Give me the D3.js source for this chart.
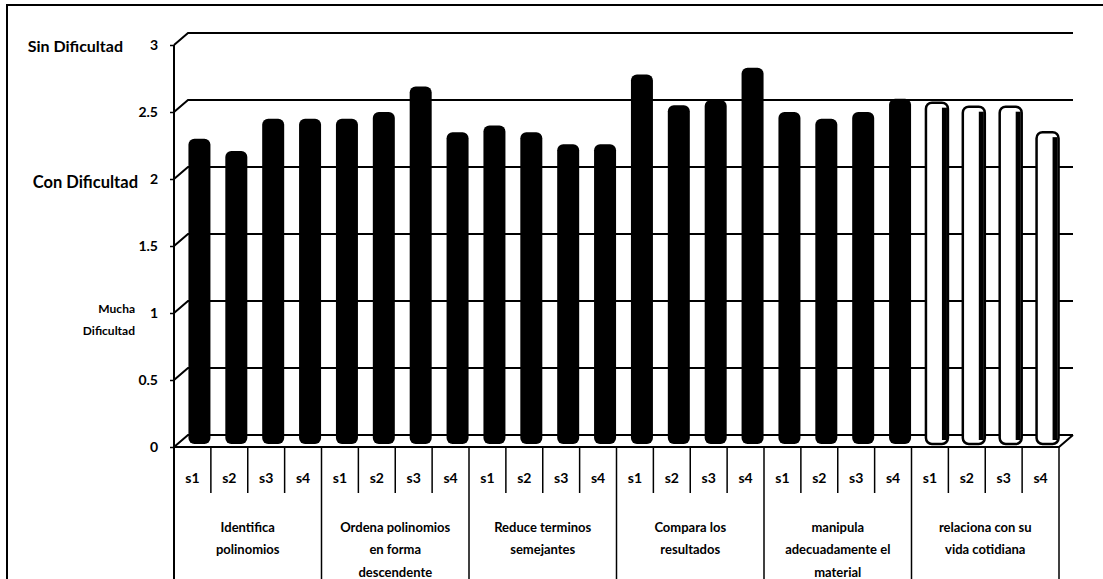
<!DOCTYPE html>
<html>
<head>
<meta charset="utf-8">
<script src="https://cdn.jsdelivr.net/npm/d3@7"></script>
<style>
  body { margin: 0; background: #fff; }
  text { font-family: Lato, "Open Sans", sans-serif; fill: #000; }
</style>
</head>
<body>
<div id="chart"></div>
<script>
// values (3D cylinders, 4 sessions per indicator)
const groups = [
  ["Identifica", "polinomios"],
  ["Ordena polinomios", "en forma", "descendente"],
  ["Reduce terminos", "semejantes"],
  ["Compara los", "resultados"],
  ["manipula", "adecuadamente el", "material"],
  ["relaciona con su", "vida cotidiana"]
];
const sessions = ["s1", "s2", "s3", "s4"];
const identifica = [2.21, 2.12, 2.36, 2.36];
const ordena = [2.36, 2.41, 2.60, 2.26];
const reduce = [2.31, 2.26, 2.17, 2.17];
const compara = [2.69, 2.46, 2.50, 2.74];
const manipula = [2.41, 2.36, 2.41, 2.51];
const relaciona = [2.48, 2.45, 2.45, 2.26];
const scores = [identifica, ordena, reduce, compara, manipula, relaciona];
const hollowGroup = 5; // last indicator drawn as white bars
const yTicks = [0, 0.5, 1, 1.5, 2, 2.5, 3];

function drawChart() {
  const W = 1103, H = 579;
  const left = 174, right = 1059, floorY = 447, topY = 45;
  const dx = 14, dy = 12; // 3D depth offset

  const svg = d3.select("#chart").append("svg")
    .attr("width", W).attr("height", H);

  // outer frame
  svg.append("rect")
    .attr("x", 7).attr("y", 5).attr("width", 1110).attr("height", 600)
    .attr("fill", "none").attr("stroke", "#000").attr("stroke-width", 2);

  const bars = scores.flatMap((vals, g) => vals.map((v, i) => ({
    key: g + "-" + i, group: g, session: sessions[i], value: v
  })));

  const x = d3.scaleBand().domain(bars.map(d => d.key)).range([left, right]);
  const xg = d3.scaleBand().domain(groups.map((d, i) => i)).range([left, right]);
  const y = d3.scaleLinear().domain([0, 3]).range([floorY, topY]);
  const yBack = v => y(v) - dy;

  // walls and gridlines
  const grid = svg.append("g").attr("stroke", "#000").attr("fill", "none");
  yTicks.forEach(t => {
    grid.append("path")
      .attr("d", `M${left},${y(t)} L${left + dx},${yBack(t)} H${right + dx}`)
      .attr("stroke-width", 2);
  });
  // floor front edge
  grid.append("path")
    .attr("d", `M${left},${floorY} H${right} L${right + dx},${floorY - dy}`)
    .attr("stroke-width", 2);

  // y axis
  const yAxis = svg.append("g")
    .attr("transform", `translate(${left},0)`)
    .call(d3.axisLeft(y).tickValues(yTicks).tickSize(4).tickPadding(12).tickFormat(d3.format("")));
  yAxis.select(".domain").attr("stroke", "#000").attr("stroke-width", 2)
    .attr("d", `M0,${y(3)} V${H + 10}`);
  yAxis.selectAll(".tick line").attr("stroke", "#000").attr("stroke-width", 1.5);
  yAxis.selectAll(".tick text")
    .style("font-family", "Lato, sans-serif")
    .style("font-size", "14px").style("font-weight", "700");

  // difficulty levels next to the axis
  svg.append("text").attr("x", 123).attr("y", y(3) + 1).attr("dy", "0.35em")
    .attr("text-anchor", "end").style("font-size", "16px").style("font-weight", "700")
    .text("Sin Dificultad");
  svg.append("text").attr("x", 138).attr("y", y(2) + 3).attr("dy", "0.35em")
    .attr("text-anchor", "end").style("font-size", "16.5px").style("font-weight", "700")
    .text("Con Dificultad");
  svg.append("text").attr("x", 135).attr("y", y(1) - 4).attr("dy", "0.35em")
    .attr("text-anchor", "end").style("font-size", "12px").style("font-weight", "700")
    .text("Mucha");
  svg.append("text").attr("x", 135).attr("y", y(1) + 18).attr("dy", "0.35em")
    .attr("text-anchor", "end").style("font-size", "12px").style("font-weight", "700")
    .text("Dificultad");

  // cylinders
  const bw = 22;
  const barX = d => x(d.key) + x.bandwidth() / 2 + dx / 2 - bw / 2;
  const barG = svg.append("g");
  barG.selectAll("rect.bar")
    .data(bars)
    .enter().append("rect")
    .attr("class", "bar")
    .attr("x", barX)
    .attr("y", d => yBack(d.value))
    .attr("width", bw)
    .attr("height", d => floorY - 3 - yBack(d.value))
    .attr("rx", 6).attr("ry", 6)
    .attr("fill", d => d.group === hollowGroup ? "#fff" : "#000")
    .attr("stroke", "#000")
    .attr("stroke-width", d => d.group === hollowGroup ? 2.5 : 0);
  // shaded right side on the white cylinders
  barG.selectAll("rect.shade")
    .data(bars.filter(d => d.group === hollowGroup))
    .enter().append("rect")
    .attr("class", "shade")
    .attr("x", d => barX(d) + bw - 6)
    .attr("y", d => yBack(d.value) + 5)
    .attr("width", 5)
    .attr("height", d => floorY - 12 - yBack(d.value))
    .attr("fill", "#000");

  // category table under the axis
  const table = svg.append("g").attr("stroke", "#000").attr("stroke-width", 1.5);
  bars.forEach((d, i) => {
    if (i % sessions.length !== 0) {
      table.append("line").attr("x1", x(d.key)).attr("x2", x(d.key))
        .attr("y1", floorY).attr("y2", floorY + 46);
    }
  });
  groups.forEach((g, i) => {
    table.append("line").attr("x1", xg(i) + xg.bandwidth()).attr("x2", xg(i) + xg.bandwidth())
      .attr("y1", floorY).attr("y2", H + 10);
  });

  svg.append("g").selectAll("text")
    .data(bars)
    .enter().append("text")
    .attr("x", d => x(d.key) + x.bandwidth() / 2)
    .attr("y", 478).attr("dy", "0.35em")
    .attr("text-anchor", "middle")
    .style("font-size", "14px").style("font-weight", "700")
    .text(d => d.session);

  const gl = svg.append("g").selectAll("text")
    .data(groups)
    .enter().append("text")
    .attr("x", (d, i) => xg(i) + xg.bandwidth() / 2)
    .attr("y", 527)
    .attr("text-anchor", "middle")
    .style("font-size", "13px").style("font-weight", "700");
  gl.selectAll("tspan")
    .data(d => d)
    .enter().append("tspan")
    .attr("x", function () { return d3.select(this.parentNode).attr("x"); })
    .attr("dy", (d, i) => i === 0 ? "0.35em" : "22.5")
    .text(d => d);
}

document.addEventListener("DOMContentLoaded", drawChart);
</script>
</body>
</html>
